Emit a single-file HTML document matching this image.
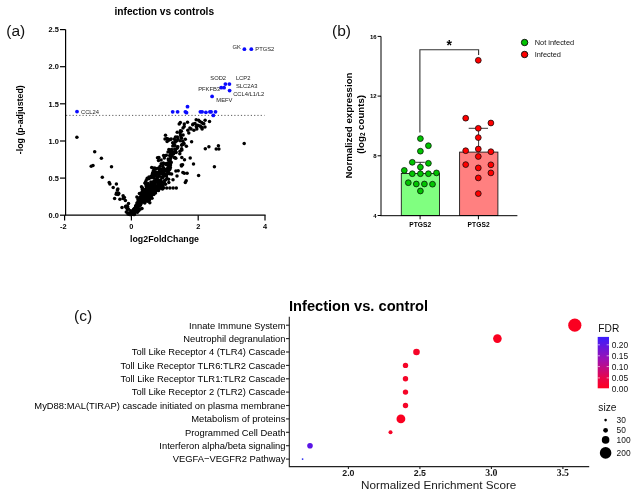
<!DOCTYPE html>
<html><head><meta charset="utf-8"><title>figure</title>
<style>
html,body{margin:0;padding:0;background:#fff;}
svg{display:block;font-family:"Liberation Sans",Arial,sans-serif;}
.b{font-weight:bold}
</style></head><body>
<svg width="637" height="496" viewBox="0 0 637 496">
<rect width="637" height="496" fill="#fff"/>
<g id="pa">
<text x="6.3" y="36" font-size="15.5" fill="#111">(a)</text>
<text x="164.3" y="15.4" font-size="10.2" class="b" text-anchor="middle" fill="#000">infection vs controls</text>
<text transform="translate(23.3,119.7) rotate(-90)" font-size="8.8" class="b" text-anchor="middle" fill="#000">-log (p-adjusted)</text>
<text x="164.5" y="241.5" font-size="8.8" class="b" text-anchor="middle" fill="#000">log2FoldChange</text>
<line x1="66" y1="115.4" x2="264.5" y2="115.4" stroke="#333" stroke-width="0.8" stroke-dasharray="1.2 2.1"/>
<g fill="#000">
<circle cx="141.4" cy="193.5" r="1.75"/><circle cx="141.3" cy="193.2" r="1.75"/><circle cx="136.1" cy="207.3" r="1.75"/><circle cx="154.7" cy="171.7" r="1.75"/><circle cx="161.6" cy="188.2" r="1.75"/><circle cx="138.5" cy="205.1" r="1.75"/><circle cx="138.3" cy="202.1" r="1.75"/><circle cx="154.2" cy="187.2" r="1.75"/><circle cx="146.3" cy="186.8" r="1.75"/><circle cx="145.6" cy="189.4" r="1.75"/><circle cx="145.5" cy="191.7" r="1.75"/><circle cx="152.4" cy="187.8" r="1.75"/><circle cx="151.5" cy="177.5" r="1.75"/><circle cx="151.3" cy="176.1" r="1.75"/><circle cx="137.4" cy="212.2" r="1.75"/><circle cx="148.1" cy="197.6" r="1.75"/><circle cx="151.2" cy="184.3" r="1.75"/><circle cx="145.5" cy="183.1" r="1.75"/><circle cx="164.7" cy="183.6" r="1.75"/><circle cx="146.2" cy="180.4" r="1.75"/><circle cx="139.5" cy="201.3" r="1.75"/><circle cx="142.7" cy="199.2" r="1.75"/><circle cx="138.3" cy="203.3" r="1.75"/><circle cx="158.1" cy="172.2" r="1.75"/><circle cx="153.0" cy="193.8" r="1.75"/><circle cx="141.0" cy="197.9" r="1.75"/><circle cx="149.7" cy="187.4" r="1.75"/><circle cx="160.0" cy="186.0" r="1.75"/><circle cx="152.4" cy="185.1" r="1.75"/><circle cx="166.4" cy="174.6" r="1.75"/><circle cx="146.5" cy="193.8" r="1.75"/><circle cx="136.7" cy="207.2" r="1.75"/><circle cx="142.7" cy="194.6" r="1.75"/><circle cx="139.4" cy="193.6" r="1.75"/><circle cx="148.0" cy="185.8" r="1.75"/><circle cx="143.9" cy="202.1" r="1.75"/><circle cx="149.0" cy="189.4" r="1.75"/><circle cx="147.3" cy="196.6" r="1.75"/><circle cx="137.1" cy="208.9" r="1.75"/><circle cx="135.8" cy="208.1" r="1.75"/><circle cx="164.8" cy="170.7" r="1.75"/><circle cx="158.8" cy="175.6" r="1.75"/><circle cx="142.1" cy="191.8" r="1.75"/><circle cx="166.0" cy="174.6" r="1.75"/><circle cx="143.7" cy="198.6" r="1.75"/><circle cx="141.9" cy="197.0" r="1.75"/><circle cx="166.3" cy="155.2" r="1.75"/><circle cx="144.0" cy="194.6" r="1.75"/><circle cx="139.7" cy="197.4" r="1.75"/><circle cx="152.2" cy="192.3" r="1.75"/><circle cx="140.2" cy="205.0" r="1.75"/><circle cx="143.9" cy="193.3" r="1.75"/><circle cx="150.9" cy="196.8" r="1.75"/><circle cx="169.9" cy="160.1" r="1.75"/><circle cx="137.0" cy="203.0" r="1.75"/><circle cx="169.8" cy="173.8" r="1.75"/><circle cx="147.0" cy="189.8" r="1.75"/><circle cx="154.7" cy="182.6" r="1.75"/><circle cx="154.6" cy="191.6" r="1.75"/><circle cx="142.1" cy="195.3" r="1.75"/><circle cx="143.8" cy="196.4" r="1.75"/><circle cx="150.5" cy="192.0" r="1.75"/><circle cx="153.8" cy="194.6" r="1.75"/><circle cx="134.7" cy="211.3" r="1.75"/><circle cx="133.5" cy="214.5" r="1.75"/><circle cx="148.6" cy="186.7" r="1.75"/><circle cx="154.8" cy="188.6" r="1.75"/><circle cx="147.9" cy="197.7" r="1.75"/><circle cx="156.9" cy="189.4" r="1.75"/><circle cx="150.3" cy="188.4" r="1.75"/><circle cx="149.3" cy="188.6" r="1.75"/><circle cx="169.2" cy="169.9" r="1.75"/><circle cx="160.3" cy="186.5" r="1.75"/><circle cx="143.7" cy="190.9" r="1.75"/><circle cx="139.6" cy="205.5" r="1.75"/><circle cx="158.3" cy="180.4" r="1.75"/><circle cx="169.7" cy="166.5" r="1.75"/><circle cx="158.5" cy="190.5" r="1.75"/><circle cx="141.1" cy="202.4" r="1.75"/><circle cx="147.6" cy="194.7" r="1.75"/><circle cx="150.7" cy="188.6" r="1.75"/><circle cx="141.5" cy="186.7" r="1.75"/><circle cx="164.9" cy="175.5" r="1.75"/><circle cx="155.2" cy="175.5" r="1.75"/><circle cx="154.9" cy="192.4" r="1.75"/><circle cx="166.3" cy="163.6" r="1.75"/><circle cx="135.7" cy="206.0" r="1.75"/><circle cx="169.0" cy="162.0" r="1.75"/><circle cx="140.5" cy="204.4" r="1.75"/><circle cx="147.1" cy="196.6" r="1.75"/><circle cx="140.5" cy="197.5" r="1.75"/><circle cx="138.5" cy="200.8" r="1.75"/><circle cx="143.0" cy="196.5" r="1.75"/><circle cx="141.2" cy="198.9" r="1.75"/><circle cx="138.3" cy="199.3" r="1.75"/><circle cx="154.0" cy="190.8" r="1.75"/><circle cx="158.7" cy="172.4" r="1.75"/><circle cx="153.9" cy="190.8" r="1.75"/><circle cx="151.0" cy="196.2" r="1.75"/><circle cx="142.3" cy="196.3" r="1.75"/><circle cx="139.4" cy="206.1" r="1.75"/><circle cx="168.3" cy="171.1" r="1.75"/><circle cx="142.5" cy="198.1" r="1.75"/><circle cx="144.4" cy="191.2" r="1.75"/><circle cx="169.7" cy="155.4" r="1.75"/><circle cx="140.9" cy="194.9" r="1.75"/><circle cx="149.4" cy="190.6" r="1.75"/><circle cx="140.4" cy="197.7" r="1.75"/><circle cx="134.6" cy="208.3" r="1.75"/><circle cx="155.0" cy="185.9" r="1.75"/><circle cx="162.4" cy="182.2" r="1.75"/><circle cx="143.3" cy="197.5" r="1.75"/><circle cx="138.9" cy="210.5" r="1.75"/><circle cx="153.0" cy="176.0" r="1.75"/><circle cx="156.2" cy="188.2" r="1.75"/><circle cx="167.1" cy="169.5" r="1.75"/><circle cx="140.0" cy="199.5" r="1.75"/><circle cx="161.7" cy="171.5" r="1.75"/><circle cx="156.5" cy="180.9" r="1.75"/><circle cx="157.3" cy="177.8" r="1.75"/><circle cx="145.3" cy="182.6" r="1.75"/><circle cx="146.6" cy="196.9" r="1.75"/><circle cx="165.5" cy="179.9" r="1.75"/><circle cx="160.3" cy="180.0" r="1.75"/><circle cx="148.1" cy="183.5" r="1.75"/><circle cx="146.0" cy="193.2" r="1.75"/><circle cx="136.2" cy="208.2" r="1.75"/><circle cx="145.4" cy="199.3" r="1.75"/><circle cx="142.3" cy="189.1" r="1.75"/><circle cx="157.5" cy="157.8" r="1.75"/><circle cx="168.1" cy="173.4" r="1.75"/><circle cx="161.1" cy="160.1" r="1.75"/><circle cx="141.3" cy="200.3" r="1.75"/><circle cx="156.8" cy="186.6" r="1.75"/><circle cx="147.7" cy="198.7" r="1.75"/><circle cx="149.2" cy="189.8" r="1.75"/><circle cx="139.9" cy="202.6" r="1.75"/><circle cx="161.9" cy="177.8" r="1.75"/><circle cx="170.2" cy="164.3" r="1.75"/><circle cx="154.4" cy="191.6" r="1.75"/><circle cx="146.0" cy="193.6" r="1.75"/><circle cx="155.6" cy="172.0" r="1.75"/><circle cx="141.7" cy="197.5" r="1.75"/><circle cx="175.8" cy="158.2" r="1.75"/><circle cx="162.9" cy="186.8" r="1.75"/><circle cx="138.3" cy="208.9" r="1.75"/><circle cx="159.6" cy="173.6" r="1.75"/><circle cx="140.3" cy="202.1" r="1.75"/><circle cx="148.9" cy="196.6" r="1.75"/><circle cx="146.0" cy="193.7" r="1.75"/><circle cx="139.4" cy="199.7" r="1.75"/><circle cx="148.8" cy="200.5" r="1.75"/><circle cx="144.8" cy="189.9" r="1.75"/><circle cx="137.6" cy="204.3" r="1.75"/><circle cx="159.1" cy="188.3" r="1.75"/><circle cx="148.9" cy="187.5" r="1.75"/><circle cx="136.1" cy="205.5" r="1.75"/><circle cx="158.6" cy="182.5" r="1.75"/><circle cx="142.1" cy="201.8" r="1.75"/><circle cx="165.7" cy="169.6" r="1.75"/><circle cx="137.2" cy="211.8" r="1.75"/><circle cx="131.6" cy="214.4" r="1.75"/><circle cx="168.6" cy="172.9" r="1.75"/><circle cx="141.7" cy="201.2" r="1.75"/><circle cx="170.7" cy="161.8" r="1.75"/><circle cx="142.6" cy="189.5" r="1.75"/><circle cx="148.4" cy="199.1" r="1.75"/><circle cx="145.9" cy="197.2" r="1.75"/><circle cx="136.7" cy="205.7" r="1.75"/><circle cx="144.2" cy="200.1" r="1.75"/><circle cx="144.8" cy="198.7" r="1.75"/><circle cx="146.2" cy="193.4" r="1.75"/><circle cx="171.1" cy="157.0" r="1.75"/><circle cx="153.6" cy="181.6" r="1.75"/><circle cx="160.8" cy="180.6" r="1.75"/><circle cx="150.1" cy="192.0" r="1.75"/><circle cx="163.3" cy="173.5" r="1.75"/><circle cx="148.7" cy="191.3" r="1.75"/><circle cx="145.7" cy="197.2" r="1.75"/><circle cx="140.0" cy="201.3" r="1.75"/><circle cx="160.7" cy="183.3" r="1.75"/><circle cx="164.6" cy="155.9" r="1.75"/><circle cx="136.9" cy="205.0" r="1.75"/><circle cx="180.0" cy="151.2" r="1.75"/><circle cx="147.1" cy="198.0" r="1.75"/><circle cx="145.7" cy="193.3" r="1.75"/><circle cx="138.1" cy="204.2" r="1.75"/><circle cx="143.3" cy="199.8" r="1.75"/><circle cx="151.5" cy="195.1" r="1.75"/><circle cx="147.0" cy="190.2" r="1.75"/><circle cx="141.0" cy="198.5" r="1.75"/><circle cx="162.9" cy="173.5" r="1.75"/><circle cx="133.6" cy="209.3" r="1.75"/><circle cx="161.2" cy="163.7" r="1.75"/><circle cx="169.4" cy="159.9" r="1.75"/><circle cx="138.4" cy="198.8" r="1.75"/><circle cx="167.8" cy="163.6" r="1.75"/><circle cx="158.0" cy="190.2" r="1.75"/><circle cx="144.2" cy="197.8" r="1.75"/><circle cx="145.6" cy="200.6" r="1.75"/><circle cx="165.3" cy="173.9" r="1.75"/><circle cx="149.3" cy="192.9" r="1.75"/><circle cx="144.7" cy="199.8" r="1.75"/><circle cx="147.7" cy="187.2" r="1.75"/><circle cx="170.3" cy="167.5" r="1.75"/><circle cx="153.0" cy="189.1" r="1.75"/><circle cx="142.8" cy="200.2" r="1.75"/><circle cx="163.3" cy="174.0" r="1.75"/><circle cx="156.9" cy="173.9" r="1.75"/><circle cx="140.8" cy="198.0" r="1.75"/><circle cx="144.8" cy="203.0" r="1.75"/><circle cx="171.9" cy="150.1" r="1.75"/><circle cx="163.1" cy="172.4" r="1.75"/><circle cx="167.7" cy="172.1" r="1.75"/><circle cx="135.8" cy="206.8" r="1.75"/><circle cx="158.7" cy="181.5" r="1.75"/><circle cx="161.2" cy="169.0" r="1.75"/><circle cx="140.5" cy="208.9" r="1.75"/><circle cx="142.3" cy="199.0" r="1.75"/><circle cx="154.7" cy="184.0" r="1.75"/><circle cx="133.5" cy="211.2" r="1.75"/><circle cx="145.9" cy="198.5" r="1.75"/><circle cx="135.7" cy="209.5" r="1.75"/><circle cx="136.5" cy="206.1" r="1.75"/><circle cx="145.3" cy="191.2" r="1.75"/><circle cx="149.5" cy="187.3" r="1.75"/><circle cx="170.0" cy="168.9" r="1.75"/><circle cx="136.9" cy="197.1" r="1.75"/><circle cx="152.2" cy="190.7" r="1.75"/><circle cx="137.3" cy="203.1" r="1.75"/><circle cx="159.1" cy="184.8" r="1.75"/><circle cx="145.6" cy="190.5" r="1.75"/><circle cx="155.4" cy="192.0" r="1.75"/><circle cx="164.3" cy="157.9" r="1.75"/><circle cx="174.9" cy="157.7" r="1.75"/><circle cx="153.0" cy="192.1" r="1.75"/><circle cx="152.8" cy="172.6" r="1.75"/><circle cx="165.7" cy="169.5" r="1.75"/><circle cx="142.3" cy="200.1" r="1.75"/><circle cx="147.1" cy="197.6" r="1.75"/><circle cx="136.9" cy="205.2" r="1.75"/><circle cx="140.9" cy="203.0" r="1.75"/><circle cx="150.2" cy="185.8" r="1.75"/><circle cx="153.4" cy="183.6" r="1.75"/><circle cx="135.8" cy="210.0" r="1.75"/><circle cx="157.8" cy="172.8" r="1.75"/><circle cx="145.1" cy="191.2" r="1.75"/><circle cx="148.7" cy="191.3" r="1.75"/><circle cx="145.1" cy="183.3" r="1.75"/><circle cx="137.4" cy="209.8" r="1.75"/><circle cx="158.9" cy="157.6" r="1.75"/><circle cx="152.4" cy="173.7" r="1.75"/><circle cx="158.4" cy="188.1" r="1.75"/><circle cx="158.5" cy="160.5" r="1.75"/><circle cx="149.7" cy="178.0" r="1.75"/><circle cx="141.1" cy="199.2" r="1.75"/><circle cx="140.7" cy="200.0" r="1.75"/><circle cx="138.3" cy="200.4" r="1.75"/><circle cx="160.5" cy="181.4" r="1.75"/><circle cx="152.7" cy="189.2" r="1.75"/><circle cx="163.4" cy="168.5" r="1.75"/><circle cx="174.0" cy="152.1" r="1.75"/><circle cx="153.4" cy="176.4" r="1.75"/><circle cx="157.0" cy="177.7" r="1.75"/><circle cx="147.2" cy="178.2" r="1.75"/><circle cx="172.1" cy="151.7" r="1.75"/><circle cx="141.7" cy="194.5" r="1.75"/><circle cx="148.6" cy="189.9" r="1.75"/><circle cx="138.3" cy="203.0" r="1.75"/><circle cx="142.2" cy="194.6" r="1.75"/><circle cx="144.4" cy="198.4" r="1.75"/><circle cx="142.5" cy="187.9" r="1.75"/><circle cx="141.3" cy="200.8" r="1.75"/><circle cx="156.9" cy="178.7" r="1.75"/><circle cx="134.6" cy="213.4" r="1.75"/><circle cx="155.7" cy="189.4" r="1.75"/><circle cx="147.1" cy="200.1" r="1.75"/><circle cx="138.4" cy="199.0" r="1.75"/><circle cx="134.4" cy="210.9" r="1.75"/><circle cx="153.0" cy="184.0" r="1.75"/><circle cx="154.5" cy="173.9" r="1.75"/><circle cx="169.0" cy="167.1" r="1.75"/><circle cx="134.4" cy="214.5" r="1.75"/><circle cx="146.0" cy="190.6" r="1.75"/><circle cx="139.5" cy="198.8" r="1.75"/><circle cx="164.2" cy="174.3" r="1.75"/><circle cx="150.1" cy="188.8" r="1.75"/><circle cx="160.5" cy="183.7" r="1.75"/><circle cx="155.3" cy="168.3" r="1.75"/><circle cx="170.5" cy="158.5" r="1.75"/><circle cx="160.1" cy="166.3" r="1.75"/><circle cx="159.3" cy="182.4" r="1.75"/><circle cx="154.8" cy="189.4" r="1.75"/><circle cx="157.5" cy="180.8" r="1.75"/><circle cx="144.0" cy="198.7" r="1.75"/><circle cx="133.5" cy="210.5" r="1.75"/><circle cx="143.4" cy="192.2" r="1.75"/><circle cx="157.6" cy="183.1" r="1.75"/><circle cx="138.4" cy="205.4" r="1.75"/><circle cx="153.5" cy="170.6" r="1.75"/><circle cx="170.5" cy="164.9" r="1.75"/><circle cx="138.1" cy="208.3" r="1.75"/><circle cx="159.8" cy="184.0" r="1.75"/><circle cx="140.8" cy="204.0" r="1.75"/><circle cx="145.2" cy="195.8" r="1.75"/><circle cx="154.0" cy="178.2" r="1.75"/><circle cx="168.2" cy="158.9" r="1.75"/><circle cx="146.9" cy="193.0" r="1.75"/><circle cx="149.0" cy="194.1" r="1.75"/><circle cx="140.8" cy="201.7" r="1.75"/><circle cx="131.7" cy="213.9" r="1.75"/><circle cx="149.6" cy="189.9" r="1.75"/><circle cx="142.3" cy="200.0" r="1.75"/><circle cx="163.3" cy="162.9" r="1.75"/><circle cx="155.6" cy="181.1" r="1.75"/><circle cx="162.9" cy="176.0" r="1.75"/><circle cx="151.0" cy="187.2" r="1.75"/><circle cx="140.7" cy="203.1" r="1.75"/><circle cx="140.1" cy="201.7" r="1.75"/><circle cx="158.2" cy="168.2" r="1.75"/><circle cx="155.4" cy="189.3" r="1.75"/><circle cx="140.9" cy="196.9" r="1.75"/><circle cx="157.8" cy="185.5" r="1.75"/><circle cx="146.0" cy="185.1" r="1.75"/><circle cx="159.2" cy="169.0" r="1.75"/><circle cx="156.1" cy="168.8" r="1.75"/><circle cx="142.3" cy="197.4" r="1.75"/><circle cx="147.6" cy="199.1" r="1.75"/><circle cx="142.0" cy="208.6" r="1.75"/><circle cx="162.9" cy="171.5" r="1.75"/><circle cx="143.7" cy="199.8" r="1.75"/><circle cx="135.6" cy="207.5" r="1.75"/><circle cx="155.4" cy="181.9" r="1.75"/><circle cx="150.8" cy="185.0" r="1.75"/><circle cx="162.8" cy="165.9" r="1.75"/><circle cx="146.4" cy="200.9" r="1.75"/><circle cx="162.6" cy="177.5" r="1.75"/><circle cx="146.0" cy="193.6" r="1.75"/><circle cx="138.7" cy="205.5" r="1.75"/><circle cx="143.4" cy="200.7" r="1.75"/><circle cx="151.5" cy="183.3" r="1.75"/><circle cx="158.8" cy="183.4" r="1.75"/><circle cx="154.6" cy="190.9" r="1.75"/><circle cx="166.5" cy="176.1" r="1.75"/><circle cx="140.1" cy="205.2" r="1.75"/><circle cx="159.7" cy="185.8" r="1.75"/><circle cx="152.7" cy="193.5" r="1.75"/><circle cx="148.7" cy="178.7" r="1.75"/><circle cx="142.0" cy="194.8" r="1.75"/><circle cx="146.8" cy="192.3" r="1.75"/><circle cx="144.2" cy="194.9" r="1.75"/><circle cx="145.5" cy="192.8" r="1.75"/><circle cx="144.6" cy="192.8" r="1.75"/><circle cx="153.0" cy="187.1" r="1.75"/><circle cx="147.8" cy="201.3" r="1.75"/><circle cx="159.3" cy="176.2" r="1.75"/><circle cx="144.0" cy="189.8" r="1.75"/><circle cx="143.5" cy="194.7" r="1.75"/><circle cx="145.4" cy="192.5" r="1.75"/><circle cx="142.0" cy="199.8" r="1.75"/><circle cx="150.4" cy="194.9" r="1.75"/><circle cx="151.7" cy="167.4" r="1.75"/><circle cx="167.9" cy="164.8" r="1.75"/><circle cx="132.4" cy="213.6" r="1.75"/><circle cx="150.9" cy="181.9" r="1.75"/><circle cx="156.1" cy="175.1" r="1.75"/><circle cx="168.0" cy="164.3" r="1.75"/><circle cx="162.2" cy="177.5" r="1.75"/><circle cx="163.5" cy="176.3" r="1.75"/><circle cx="155.6" cy="180.4" r="1.75"/><circle cx="148.3" cy="185.9" r="1.75"/><circle cx="137.4" cy="205.7" r="1.75"/><circle cx="149.8" cy="189.7" r="1.75"/><circle cx="160.2" cy="171.9" r="1.75"/><circle cx="160.1" cy="186.5" r="1.75"/><circle cx="139.4" cy="203.9" r="1.75"/><circle cx="136.2" cy="208.3" r="1.75"/><circle cx="170.3" cy="155.7" r="1.75"/><circle cx="154.0" cy="168.1" r="1.75"/><circle cx="159.4" cy="171.3" r="1.75"/><circle cx="154.0" cy="190.3" r="1.75"/><circle cx="155.9" cy="186.6" r="1.75"/><circle cx="158.5" cy="173.0" r="1.75"/><circle cx="172.6" cy="154.3" r="1.75"/><circle cx="144.2" cy="197.6" r="1.75"/><circle cx="149.0" cy="177.1" r="1.75"/><circle cx="163.5" cy="168.1" r="1.75"/><circle cx="146.8" cy="200.3" r="1.75"/><circle cx="160.9" cy="184.6" r="1.75"/><circle cx="157.0" cy="185.8" r="1.75"/><circle cx="192.7" cy="124.7" r="1.75"/><circle cx="183.0" cy="127.9" r="1.75"/><circle cx="196.2" cy="119.8" r="1.75"/><circle cx="196.8" cy="128.9" r="1.75"/><circle cx="191.6" cy="141.8" r="1.75"/><circle cx="197.3" cy="125.3" r="1.75"/><circle cx="174.3" cy="157.4" r="1.75"/><circle cx="177.0" cy="140.8" r="1.75"/><circle cx="181.8" cy="157.6" r="1.75"/><circle cx="165.5" cy="184.2" r="1.75"/><circle cx="187.8" cy="130.3" r="1.75"/><circle cx="198.3" cy="125.4" r="1.75"/><circle cx="203.0" cy="123.5" r="1.75"/><circle cx="188.8" cy="133.0" r="1.75"/><circle cx="203.8" cy="123.7" r="1.75"/><circle cx="167.6" cy="165.1" r="1.75"/><circle cx="191.1" cy="129.0" r="1.75"/><circle cx="163.8" cy="163.7" r="1.75"/><circle cx="163.3" cy="171.8" r="1.75"/><circle cx="205.1" cy="120.3" r="1.75"/><circle cx="200.9" cy="126.9" r="1.75"/><circle cx="173.6" cy="153.8" r="1.75"/><circle cx="195.0" cy="123.6" r="1.75"/><circle cx="196.7" cy="126.8" r="1.75"/><circle cx="200.3" cy="126.0" r="1.75"/><circle cx="193.9" cy="130.3" r="1.75"/><circle cx="183.1" cy="134.9" r="1.75"/><circle cx="205.0" cy="126.9" r="1.75"/><circle cx="163.6" cy="155.4" r="1.75"/><circle cx="198.6" cy="120.3" r="1.75"/><circle cx="168.7" cy="160.2" r="1.75"/><circle cx="181.6" cy="138.3" r="1.75"/><circle cx="172.8" cy="146.0" r="1.75"/><circle cx="174.9" cy="145.5" r="1.75"/><circle cx="171.7" cy="155.7" r="1.75"/><circle cx="180.1" cy="140.7" r="1.75"/><circle cx="170.0" cy="163.2" r="1.75"/><circle cx="171.2" cy="162.4" r="1.75"/><circle cx="170.5" cy="152.8" r="1.75"/><circle cx="179.8" cy="153.7" r="1.75"/><circle cx="174.7" cy="148.9" r="1.75"/><circle cx="184.2" cy="126.4" r="1.75"/><circle cx="177.9" cy="139.1" r="1.75"/><circle cx="175.6" cy="151.7" r="1.75"/><circle cx="184.3" cy="124.1" r="1.75"/><circle cx="168.7" cy="167.7" r="1.75"/><circle cx="171.5" cy="149.6" r="1.75"/><circle cx="177.5" cy="146.9" r="1.75"/><circle cx="175.5" cy="137.0" r="1.75"/><circle cx="168.1" cy="168.3" r="1.75"/><circle cx="161.5" cy="173.4" r="1.75"/><circle cx="175.2" cy="140.4" r="1.75"/><circle cx="180.5" cy="135.0" r="1.75"/><circle cx="180.9" cy="136.9" r="1.75"/><circle cx="180.4" cy="130.8" r="1.75"/><circle cx="167.9" cy="167.8" r="1.75"/><circle cx="181.4" cy="131.2" r="1.75"/><circle cx="182.8" cy="141.2" r="1.75"/><circle cx="169.6" cy="150.9" r="1.75"/><circle cx="180.1" cy="133.0" r="1.75"/><circle cx="166.1" cy="164.5" r="1.75"/><circle cx="166.9" cy="178.5" r="1.75"/><circle cx="175.6" cy="149.7" r="1.75"/><circle cx="166.3" cy="171.0" r="1.75"/><circle cx="170.3" cy="139.5" r="1.75"/><circle cx="182.0" cy="144.6" r="1.75"/><circle cx="166.7" cy="138.5" r="1.75"/><circle cx="181.6" cy="148.7" r="1.75"/><circle cx="177.4" cy="136.9" r="1.75"/><circle cx="184.0" cy="143.5" r="1.75"/><circle cx="175.1" cy="142.3" r="1.75"/><circle cx="168.9" cy="149.4" r="1.75"/><circle cx="168.7" cy="140.3" r="1.75"/><circle cx="172.7" cy="142.8" r="1.75"/><circle cx="173.5" cy="143.6" r="1.75"/><circle cx="168.0" cy="152.0" r="1.75"/><circle cx="186.4" cy="146.2" r="1.75"/><circle cx="167.1" cy="141.6" r="1.75"/><circle cx="181.9" cy="150.1" r="1.75"/><circle cx="177.8" cy="146.7" r="1.75"/><circle cx="176.1" cy="152.5" r="1.75"/><circle cx="165.5" cy="135.2" r="1.75"/><circle cx="183.6" cy="144.2" r="1.75"/><circle cx="177.1" cy="148.2" r="1.75"/><circle cx="181.7" cy="145.2" r="1.75"/><circle cx="185.3" cy="139.2" r="1.75"/><circle cx="178.2" cy="170.8" r="1.75"/><circle cx="149.5" cy="199.8" r="1.75"/><circle cx="155.5" cy="193.1" r="1.75"/><circle cx="150.0" cy="197.3" r="1.75"/><circle cx="168.6" cy="179.3" r="1.75"/><circle cx="182.9" cy="172.4" r="1.75"/><circle cx="181.5" cy="166.0" r="1.75"/><circle cx="162.7" cy="185.4" r="1.75"/><circle cx="152.5" cy="193.7" r="1.75"/><circle cx="168.8" cy="182.6" r="1.75"/><circle cx="171.6" cy="174.1" r="1.75"/><circle cx="162.5" cy="189.0" r="1.75"/><circle cx="164.6" cy="180.5" r="1.75"/><circle cx="184.5" cy="159.8" r="1.75"/><circle cx="156.2" cy="190.3" r="1.75"/><circle cx="161.0" cy="188.2" r="1.75"/><circle cx="181.3" cy="165.0" r="1.75"/><circle cx="149.8" cy="202.8" r="1.75"/><circle cx="177.0" cy="176.0" r="1.75"/><circle cx="184.3" cy="173.3" r="1.75"/><circle cx="150.1" cy="194.7" r="1.75"/><circle cx="182.6" cy="164.8" r="1.75"/><circle cx="173.0" cy="179.7" r="1.75"/><circle cx="175.9" cy="170.9" r="1.75"/><circle cx="152.0" cy="198.2" r="1.75"/><circle cx="152.7" cy="193.7" r="1.75"/><circle cx="127.4" cy="209.4" r="1.75"/><circle cx="131.1" cy="213.0" r="1.75"/><circle cx="130.9" cy="214.5" r="1.75"/><circle cx="130.5" cy="214.5" r="1.75"/><circle cx="116.5" cy="192.9" r="1.75"/><circle cx="128.5" cy="203.6" r="1.75"/><circle cx="122.0" cy="207.5" r="1.75"/><circle cx="126.8" cy="206.0" r="1.75"/><circle cx="118.8" cy="193.5" r="1.75"/><circle cx="126.3" cy="212.0" r="1.75"/><circle cx="125.6" cy="206.3" r="1.75"/><circle cx="128.0" cy="214.0" r="1.75"/><circle cx="128.8" cy="213.0" r="1.75"/><circle cx="131.0" cy="213.5" r="1.75"/><circle cx="129.5" cy="214.5" r="1.75"/><circle cx="123.1" cy="198.4" r="1.75"/><circle cx="130.7" cy="210.8" r="1.75"/><circle cx="128.4" cy="208.9" r="1.75"/><circle cx="128.2" cy="213.3" r="1.75"/><circle cx="127.6" cy="206.5" r="1.75"/><circle cx="125.4" cy="200.4" r="1.75"/><circle cx="117.4" cy="189.9" r="1.75"/><circle cx="118.1" cy="194.4" r="1.75"/><circle cx="129.1" cy="214.1" r="1.75"/><circle cx="126.0" cy="207.3" r="1.75"/><circle cx="131.2" cy="212.7" r="1.75"/><circle cx="117.9" cy="188.9" r="1.75"/><circle cx="116.2" cy="194.3" r="1.75"/><circle cx="126.9" cy="207.4" r="1.75"/><circle cx="129.6" cy="213.4" r="1.75"/><circle cx="76.9" cy="137.3" r="1.75"/><circle cx="94.7" cy="151.8" r="1.75"/><circle cx="101.4" cy="158.3" r="1.75"/><circle cx="91.2" cy="166.3" r="1.75"/><circle cx="93.0" cy="165.4" r="1.75"/><circle cx="111.5" cy="166.8" r="1.75"/><circle cx="102.3" cy="177.2" r="1.75"/><circle cx="109.2" cy="182.6" r="1.75"/><circle cx="109.9" cy="184.1" r="1.75"/><circle cx="116.4" cy="184.1" r="1.75"/><circle cx="113.2" cy="187.5" r="1.75"/><circle cx="118.2" cy="193.0" r="1.75"/><circle cx="114.6" cy="198.6" r="1.75"/><circle cx="123.1" cy="195.7" r="1.75"/><circle cx="124.4" cy="197.5" r="1.75"/><circle cx="119.9" cy="199.3" r="1.75"/><circle cx="205.3" cy="148.7" r="1.75"/><circle cx="208.9" cy="146.7" r="1.75"/><circle cx="190.2" cy="158.1" r="1.75"/><circle cx="193.5" cy="164.1" r="1.75"/><circle cx="198.6" cy="175.4" r="1.75"/><circle cx="187.1" cy="173.2" r="1.75"/><circle cx="185.3" cy="182.6" r="1.75"/><circle cx="186.2" cy="180.8" r="1.75"/><circle cx="214.4" cy="166.7" r="1.75"/><circle cx="218.4" cy="145.7" r="1.75"/><circle cx="216.2" cy="149.0" r="1.75"/><circle cx="218.9" cy="149.0" r="1.75"/><circle cx="244.2" cy="143.6" r="1.75"/><circle cx="180.3" cy="122.6" r="1.75"/><circle cx="179.2" cy="124.1" r="1.75"/><circle cx="187.5" cy="122.3" r="1.75"/><circle cx="193.2" cy="123.9" r="1.75"/><circle cx="189.9" cy="128.1" r="1.75"/><circle cx="196.3" cy="126.6" r="1.75"/><circle cx="199.9" cy="121.4" r="1.75"/><circle cx="201.7" cy="122.6" r="1.75"/><circle cx="202.1" cy="127.5" r="1.75"/><circle cx="202.1" cy="129.0" r="1.75"/><circle cx="209.5" cy="121.4" r="1.75"/><circle cx="177.2" cy="132.3" r="1.75"/><circle cx="163.5" cy="188.1" r="1.75"/><circle cx="166.7" cy="188.1" r="1.75"/><circle cx="169.9" cy="188.1" r="1.75"/><circle cx="173.1" cy="188.1" r="1.75"/><circle cx="176.3" cy="188.1" r="1.75"/><circle cx="165.0" cy="139.0" r="1.75"/><circle cx="168.1" cy="139.0" r="1.75"/><circle cx="171.2" cy="139.0" r="1.75"/><circle cx="174.3" cy="139.0" r="1.75"/>
</g>
<g fill="#0a0aff"><circle cx="77.0" cy="111.6" r="1.9"/><circle cx="172.7" cy="111.8" r="1.9"/><circle cx="177.6" cy="111.8" r="1.9"/><circle cx="185.4" cy="111.8" r="1.9"/><circle cx="186.5" cy="112.7" r="1.9"/><circle cx="187.5" cy="106.7" r="1.9"/><circle cx="200.4" cy="111.8" r="1.9"/><circle cx="202.1" cy="111.8" r="1.9"/><circle cx="205.9" cy="112.3" r="1.9"/><circle cx="209.9" cy="111.8" r="1.9"/><circle cx="211.1" cy="111.8" r="1.9"/><circle cx="215.5" cy="111.8" r="1.9"/><circle cx="213.3" cy="115.4" r="1.9"/><circle cx="212.1" cy="96.4" r="1.9"/><circle cx="221.2" cy="87.7" r="1.9"/><circle cx="224.1" cy="87.7" r="1.9"/><circle cx="225.4" cy="84.1" r="1.9"/><circle cx="229.4" cy="84.1" r="1.9"/><circle cx="229.6" cy="90.6" r="1.9"/><circle cx="244.4" cy="49.2" r="1.9"/><circle cx="251.3" cy="49.2" r="1.9"/></g>
<g font-size="5.8" fill="#222"><text x="232.6" y="49.2">GK</text><text x="255.3" y="51.1">PTGS2</text><text x="210.3" y="80.1">SOD2</text><text x="235.9" y="79.5">LCP2</text><text x="235.9" y="87.5">SLC2A3</text><text x="198.2" y="91.2">PFKFB3</text><text x="233.2" y="96.1">CCL4/L1/L2</text><text x="216.3" y="102.0">MEFV</text><text x="81.0" y="113.5">CCL24</text></g>
<g stroke="#000" stroke-width="1.2" fill="none"><path d="M65.6 29.6V215.2M65 215.2H265.6"/><path d="M60 215.2H65.6"/><path d="M60 178.1H65.6"/><path d="M60 141.0H65.6"/><path d="M60 103.8H65.6"/><path d="M60 66.7H65.6"/><path d="M60 29.6H65.6"/><path d="M64.6 215.2V220.6"/><path d="M131.4 215.2V220.6"/><path d="M198.2 215.2V220.6"/><path d="M265.0 215.2V220.6"/></g>
<g font-size="7.4" class="b" fill="#000" text-anchor="end"><text x="58.8" y="217.9">0.0</text><text x="58.8" y="180.8">0.5</text><text x="58.8" y="143.7">1.0</text><text x="58.8" y="106.5">1.5</text><text x="58.8" y="69.4">2.0</text><text x="58.8" y="32.3">2.5</text></g>
<g font-size="7.4" class="b" fill="#000" text-anchor="middle"><text x="63.4" y="229.3">-2</text><text x="131.4" y="229.3">0</text><text x="198.2" y="229.3">2</text><text x="265.0" y="229.3">4</text></g>
</g>
<g id="pb">
<text x="332" y="36" font-size="15.5" fill="#111">(b)</text>
<text transform="translate(351.5,125.5) rotate(-90)" font-size="9.7" class="b" text-anchor="middle" fill="#000">Normalized expression</text>
<text transform="translate(363.5,124.4) rotate(-90)" font-size="9.7" class="b" text-anchor="middle" fill="#000">(log<tspan font-size="6.3" dy="1.8">2</tspan><tspan dy="-1.8"> counts)</tspan></text>
<rect x="401.3" y="173.5" width="38.2" height="42" fill="#80ff80" stroke="#1a1a1a" stroke-width="0.9"/>
<rect x="459.6" y="152.1" width="38.3" height="63.4" fill="#ff8080" stroke="#1a1a1a" stroke-width="0.9"/>
<g stroke="#222" stroke-width="0.9" fill="none"><path d="M420.1 173.5V162.3M415.6 162.3H424.8"/><path d="M478.6 152.1V128.3M468.7 128.3H488"/></g>
<path d="M419.9 132.5V49.7H478.6V55" stroke="#333" stroke-width="1.1" fill="none"/>
<text x="449.3" y="49.6" font-size="14" class="b" text-anchor="middle" fill="#000">*</text>
<g fill="#00c400" stroke="#0a1a0a" stroke-width="0.8"><circle cx="420.4" cy="138.6" r="2.9"/><circle cx="428.4" cy="145.7" r="2.9"/><circle cx="420.4" cy="151.2" r="2.9"/><circle cx="412.3" cy="162.3" r="2.9"/><circle cx="428.4" cy="163.3" r="2.9"/><circle cx="420.4" cy="167.1" r="2.9"/><circle cx="404.3" cy="170.4" r="2.9"/><circle cx="412.3" cy="173.7" r="2.9"/><circle cx="420.4" cy="173.7" r="2.9"/><circle cx="428.4" cy="173.7" r="2.9"/><circle cx="436.5" cy="172.9" r="2.9"/><circle cx="408.3" cy="182.7" r="2.9"/><circle cx="416.3" cy="184.0" r="2.9"/><circle cx="424.4" cy="184.0" r="2.9"/><circle cx="432.5" cy="184.2" r="2.9"/><circle cx="420.4" cy="191.0" r="2.9"/></g>
<g fill="#ff0000" stroke="#1a0a0a" stroke-width="0.8"><circle cx="478.3" cy="60.3" r="2.9"/><circle cx="465.7" cy="118.2" r="2.9"/><circle cx="490.9" cy="123.0" r="2.9"/><circle cx="478.3" cy="128.3" r="2.9"/><circle cx="478.3" cy="137.6" r="2.9"/><circle cx="465.7" cy="150.7" r="2.9"/><circle cx="478.3" cy="149.0" r="2.9"/><circle cx="490.9" cy="151.7" r="2.9"/><circle cx="478.3" cy="156.5" r="2.9"/><circle cx="465.7" cy="164.6" r="2.9"/><circle cx="490.9" cy="164.8" r="2.9"/><circle cx="478.3" cy="167.9" r="2.9"/><circle cx="490.9" cy="172.9" r="2.9"/><circle cx="478.3" cy="177.9" r="2.9"/><circle cx="478.3" cy="193.6" r="2.9"/></g>
<g stroke="#000" stroke-width="1" fill="none"><path d="M381 36.4V215.7M380.5 215.7H517.4"/><path d="M377.6 36.4H381"/><path d="M377.6 96.1H381"/><path d="M377.6 155.8H381"/><path d="M377.6 215.5H381"/><path d="M420.1 215.7V219.3M478.4 215.7V219.3"/></g>
<g font-size="6" class="b" fill="#000" text-anchor="end"><text x="376.6" y="38.6">16</text><text x="376.6" y="98.3">12</text><text x="376.6" y="158.0">8</text><text x="376.6" y="217.7">4</text></g>
<g font-size="6.6" class="b" fill="#000" text-anchor="middle" letter-spacing="0.1"><text x="420.3" y="226.6">PTGS2</text><text x="478.6" y="226.6">PTGS2</text></g>
<circle cx="524.6" cy="42.5" r="3.2" fill="#00c400" stroke="#111" stroke-width="1"/><circle cx="524.6" cy="54.5" r="3.2" fill="#ff0000" stroke="#111" stroke-width="1"/>
<g font-size="7.4" fill="#111"><text x="534.7" y="45">Not infected</text><text x="534.7" y="57">Infected</text></g>
</g>
<g id="pc">
<text x="74" y="321" font-size="15.5" fill="#111">(c)</text>
<text x="289" y="311.2" font-size="14.65" class="b" fill="#000">Infection vs. control</text>
<g font-size="9.4" fill="#000" text-anchor="end"><text x="285.5" y="328.5">Innate Immune System</text><text x="285.5" y="341.9">Neutrophil degranulation</text><text x="285.5" y="355.3">Toll Like Receptor 4 (TLR4) Cascade</text><text x="285.5" y="368.7">Toll Like Receptor TLR6:TLR2 Cascade</text><text x="285.5" y="382.1">Toll Like Receptor TLR1:TLR2 Cascade</text><text x="285.5" y="395.4">Toll Like Receptor 2 (TLR2) Cascade</text><text x="285.5" y="408.8">MyD88:MAL(TIRAP) cascade initiated on plasma membrane</text><text x="285.5" y="422.2">Metabolism of proteins</text><text x="285.5" y="435.6">Programmed Cell Death</text><text x="285.5" y="449.0">Interferon alpha/beta signaling</text><text x="285.5" y="462.4">VEGFA−VEGFR2 Pathway</text></g>
<g stroke="#222" stroke-width="1.1" fill="none"><path d="M289.3 316.8V466.6H589.2"/><path d="M286 325.2H289.3"/><path d="M286 338.6H289.3"/><path d="M286 352.0H289.3"/><path d="M286 365.4H289.3"/><path d="M286 378.8H289.3"/><path d="M286 392.1H289.3"/><path d="M286 405.5H289.3"/><path d="M286 418.9H289.3"/><path d="M286 432.3H289.3"/><path d="M286 445.7H289.3"/><path d="M286 459.1H289.3"/><path d="M348.4 466.6V469"/><path d="M419.9 466.6V469"/><path d="M491.4 466.6V469"/><path d="M562.9 466.6V469"/></g>
<g font-size="8.8" class="b" fill="#1a1a1a" text-anchor="middle"><text x="348.4" y="476.2">2.0</text><text x="419.9" y="476.2">2.5</text><text x="491.4" y="476.4" font-size="9.8" font-family="'Liberation Serif',serif">3.0</text><text x="562.9" y="476.4" font-size="9.8" font-family="'Liberation Serif',serif">3.5</text></g>
<text x="438.7" y="489.2" font-size="11.7" fill="#1a1a1a" text-anchor="middle">Normalized Enrichment Score</text>
<circle cx="574.8" cy="325.2" r="6.6" fill="#fa0020"/><circle cx="497.4" cy="338.6" r="4.3" fill="#fa0020"/><circle cx="416.5" cy="352.0" r="3.3" fill="#f50528"/><circle cx="405.5" cy="365.4" r="2.7" fill="#f50528"/><circle cx="405.5" cy="378.8" r="2.7" fill="#f50528"/><circle cx="405.5" cy="392.1" r="2.7" fill="#f50528"/><circle cx="405.5" cy="405.5" r="2.7" fill="#f50528"/><circle cx="400.9" cy="418.9" r="4.4" fill="#fa0020"/><circle cx="390.5" cy="432.3" r="2.0" fill="#f50528"/><circle cx="310.0" cy="445.7" r="2.8" fill="#5a14e6"/><circle cx="302.6" cy="459.1" r="0.9" fill="#2a2af0"/>
<defs><linearGradient id="fdr" x1="0" y1="0" x2="0" y2="1"><stop offset="0" stop-color="#3a1cff"/><stop offset="0.45" stop-color="#a010b0"/><stop offset="0.8" stop-color="#e8064a"/><stop offset="1" stop-color="#ff0020"/></linearGradient></defs>
<text x="598.3" y="332.4" font-size="10.2" fill="#111">FDR</text>
<rect x="597.7" y="336.9" width="11.3" height="51.4" fill="url(#fdr)"/>
<g stroke="#fff" stroke-width="0.6"><path d="M597.7 344.8h2.3M606.7 344.8h2.3"/><path d="M597.7 355.8h2.3M606.7 355.8h2.3"/><path d="M597.7 366.6h2.3M606.7 366.6h2.3"/><path d="M597.7 377.9h2.3M606.7 377.9h2.3"/></g>
<g font-size="8.4" fill="#111"><text x="611.8" y="347.7">0.20</text><text x="611.8" y="358.7">0.15</text><text x="611.8" y="369.5">0.10</text><text x="611.8" y="380.8">0.05</text><text x="611.8" y="391.5">0.00</text></g>
<text x="598.3" y="410.6" font-size="10.2" fill="#111">size</text>
<g fill="#000"><circle cx="605.6" cy="420.1" r="1.3"/><circle cx="605.6" cy="430.3" r="2.4"/><circle cx="605.6" cy="439.9" r="3.8"/><circle cx="605.6" cy="452.9" r="5.8"/></g>
<g font-size="8.4" fill="#111"><text x="616.6" y="423">30</text><text x="616.6" y="433.2">50</text><text x="616.6" y="442.8">100</text><text x="616.6" y="455.8">200</text></g>
</g>
</svg>
</body></html>
